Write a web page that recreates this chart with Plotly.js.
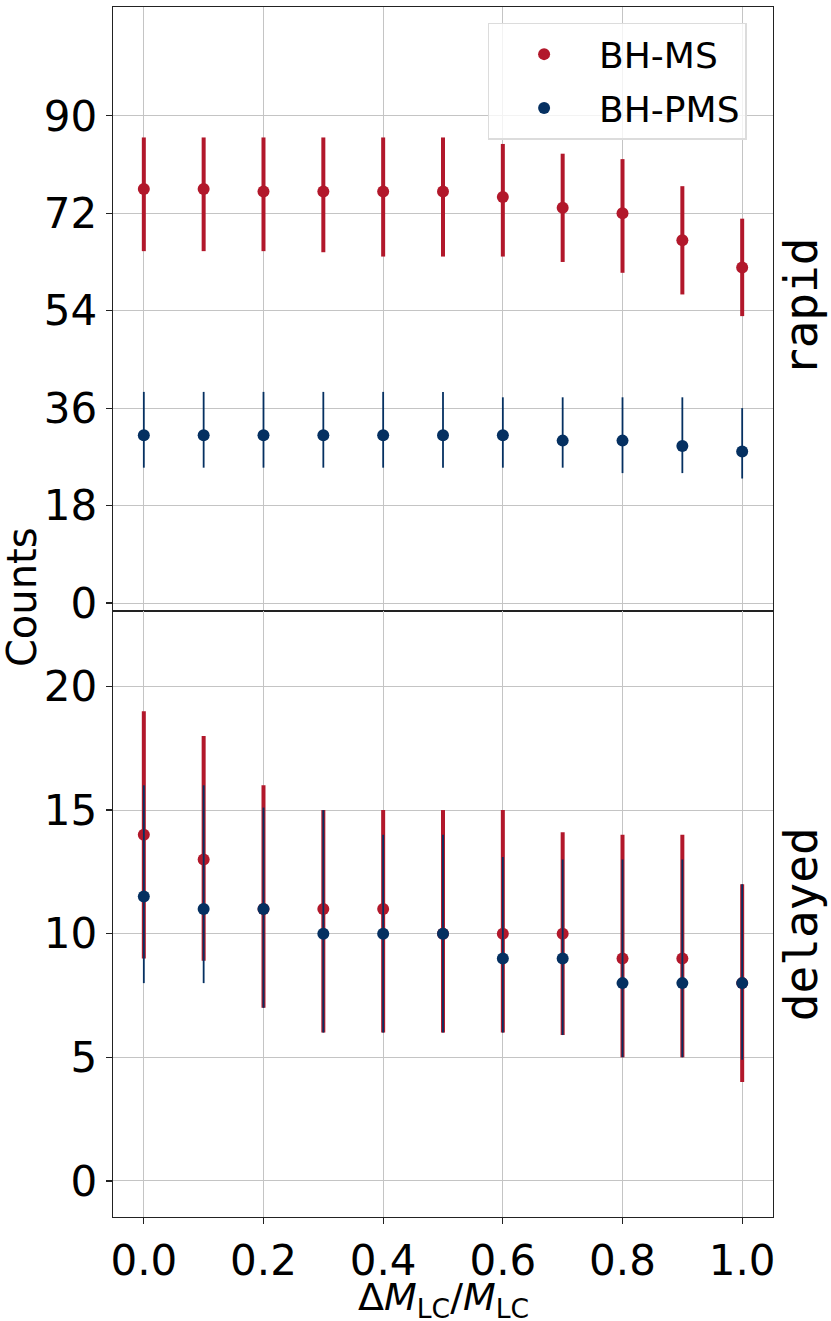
<!DOCTYPE html>
<html>
<head>
<meta charset="utf-8">
<script src="https://cdn.plot.ly/plotly-3.0.1.min.js"></script>
<style>html,body{margin:0;padding:0;background:#fff;}#chart{width:831px;height:1321px;}</style>
</head>
<body>
<div id="chart"></div>
<script>
const xVals = [0, 0.1, 0.2, 0.3, 0.4, 0.5, 0.6, 0.7, 0.8, 0.9, 1.0];

const rapidMS   = [76.5, 76.5, 76, 76, 76, 76, 75, 73, 72, 67, 62];
const rapidMSHi = [86, 86, 86, 86, 86, 86, 84.8, 83, 82, 77, 71];
const rapidMSLo = [65, 65, 65, 64.8, 64, 64, 64, 63, 61, 57, 53];

const rapidPMS   = [31, 31, 31, 31, 31, 31, 31, 30, 30, 29, 28];
const rapidPMSHi = [39, 39, 39, 39, 39, 39, 38, 38, 38, 38, 36];
const rapidPMSLo = [25, 25, 25, 25, 25, 25, 25, 25, 24, 24, 23];

const delayedMS   = [14, 13, 11, 11, 11, 10, 10, 10, 9, 9, 8];
const delayedMSHi = [19, 18, 16, 15, 15, 15, 15, 14.1, 14, 14, 12];
const delayedMSLo = [9, 8.9, 7, 6, 6, 6, 6, 5.9, 5, 5, 4];

const delayedPMS   = [11.5, 11, 11, 10, 10, 10, 9, 9, 8, 8, 8];
const delayedPMSHi = [16, 16, 15.1, 15, 14, 14, 13.1, 13, 13, 13, 12];
const delayedPMSLo = [8, 8, 7, 6, 6, 6, 6, 5.9, 5, 5, 4.9];

const seriesNames = ['BH-MS', 'BH-PMS'];
const panelLabels = ['rapid', 'delayed'];
const xTicks = [0, 0.2, 0.4, 0.6, 0.8, 1.0];
const topTicks = [0, 18, 36, 54, 72, 90];
const botTicks = [0, 5, 10, 15, 20];

const RED = '#b2182b';
const BLUE = '#053061';

function errs(v, hi, lo) {
  return {
    plus: hi.map((h, i) => h - v[i]),
    minus: lo.map((l, i) => v[i] - l)
  };
}

function trace(v, hi, lo, name, color, thick, xa, ya, showleg) {
  const e = errs(v, hi, lo);
  return {
    type: 'scatter', mode: 'markers', x: xVals, y: v, name: name,
    xaxis: xa, yaxis: ya, showlegend: showleg, legendgroup: name,
    marker: {color: color, size: 12},
    error_y: {type: 'data', symmetric: false, array: e.plus, arrayminus: e.minus,
              color: color, thickness: thick, width: 0, visible: true}
  };
}

const data = [
  trace(rapidMS, rapidMSHi, rapidMSLo, seriesNames[0], RED, 4, 'x', 'y', true),
  trace(rapidPMS, rapidPMSHi, rapidPMSLo, seriesNames[1], BLUE, 1.8, 'x', 'y', true),
  trace(delayedMS, delayedMSHi, delayedMSLo, seriesNames[0], RED, 4, 'x2', 'y2', false),
  trace(delayedPMS, delayedPMSHi, delayedPMSLo, seriesNames[1], BLUE, 1.8, 'x2', 'y2', false)
];

const FONT = 'DejaVu Sans, sans-serif';
const axCommon = {
  showline: true, mirror: true, linecolor: '#222', linewidth: 1.3,
  showgrid: true, gridcolor: '#c4c4c4', gridwidth: 1, zeroline: false,
  ticks: 'outside', ticklen: 6, tickcolor: '#222', tickwidth: 1.2,
  tickfont: {family: FONT, size: 42, color: '#000'}
};

const layout = {
  width: 831, height: 1321,
  margin: {l: 113, r: 58, t: 7, b: 104},
  paper_bgcolor: '#fff', plot_bgcolor: '#fff',
  font: {family: FONT, color: '#000'},
  showlegend: true,
  legend: {
    x: 0.96, xanchor: 'right', y: 0.987, yanchor: 'top',
    bgcolor: 'rgba(255,255,255,0.8)', bordercolor: '#dcdcdc', borderwidth: 1.5,
    font: {family: FONT, size: 36, color: '#000'},
    itemwidth: 100, tracegroupgap: 4
  },
  xaxis: Object.assign({}, axCommon, {
    domain: [0, 1], anchor: 'y', range: [-0.0515, 1.0515],
    tickvals: xTicks, showticklabels: false, ticks: ''
  }),
  yaxis: Object.assign({}, axCommon, {
    domain: [0.5008, 1], anchor: 'x', range: [-1.48, 110.1],
    tickvals: topTicks, ticktext: topTicks.map(String)
  }),
  xaxis2: Object.assign({}, axCommon, {
    domain: [0, 1], anchor: 'y2', range: [-0.0515, 1.0515],
    tickvals: xTicks, ticktext: xTicks.map(v => v.toFixed(1))
  }),
  yaxis2: Object.assign({}, axCommon, {
    domain: [0, 0.5008], anchor: 'x2', range: [-1.46, 23.05],
    tickvals: botTicks, ticktext: botTicks.map(String)
  }),
  annotations: [
    {text: 'Δ<i>M</i><sub>LC</sub>/<i>M</i><sub>LC</sub>', xref: 'paper', yref: 'paper',
     x: 0.5, y: -0.0685, showarrow: false, xanchor: 'center', yanchor: 'middle',
     font: {family: FONT, size: 38, color: '#000'}},
    {text: 'Counts', xref: 'paper', yref: 'paper', x: -0.137, y: 0.512, textangle: -90,
     showarrow: false, xanchor: 'center', yanchor: 'middle',
     font: {family: FONT, size: 40, color: '#000'}},
    {text: panelLabels[0], xref: 'paper', yref: 'paper', x: 1.0424, y: 0.752, textangle: -90,
     showarrow: false, xanchor: 'center', yanchor: 'middle',
     font: {family: 'DejaVu Sans Mono, monospace', size: 46, color: '#000'}},
    {text: panelLabels[1], xref: 'paper', yref: 'paper', x: 1.0424, y: 0.242, textangle: -90,
     showarrow: false, xanchor: 'center', yanchor: 'middle',
     font: {family: 'DejaVu Sans Mono, monospace', size: 46, color: '#000'}}
  ]
};

Plotly.newPlot('chart', data, layout, {staticPlot: true, displayModeBar: false});
</script>
</body>
</html>
